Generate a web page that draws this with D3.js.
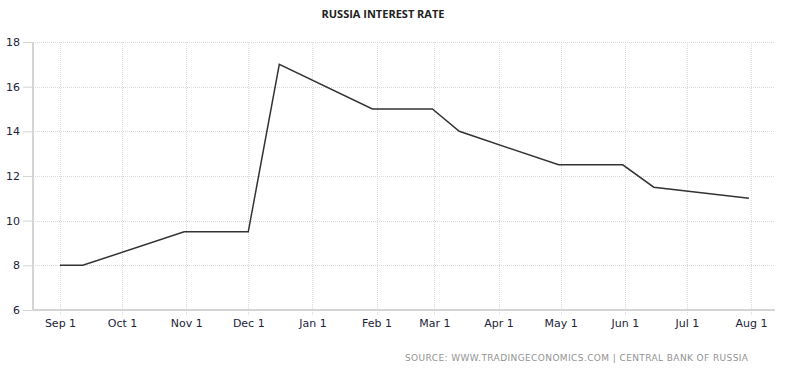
<!DOCTYPE html>
<html>
<head>
<meta charset="utf-8">
<style>
    body { margin: 0; background: #fff; }
    .grid line { stroke: #dadada; stroke-dasharray: 1,1; }
    .axis text { font: 11px "DejaVu Sans", sans-serif; fill: #23233a; }
    .line { fill: none; stroke: #333; stroke-width: 1.5px; }
</style>
</head>
<body>
<svg width="800" height="369"></svg>
<script src="https://cdn.jsdelivr.net/npm/d3@7"></script>
<script>
// policy rate changes, Sep 2014 - Aug 2015
var dates = ["2014-09-01", "2014-09-12", "2014-10-31", "2014-12-01", "2014-12-16",
             "2015-01-30", "2015-02-28", "2015-03-13", "2015-04-30", "2015-05-31",
             "2015-06-15", "2015-07-31"];
var rates = [8, 8, 9.5, 9.5, 17, 15, 15, 14, 12.5, 12.5, 11.5, 11];
var yTicks = [6, 8, 10, 12, 14, 16, 18];
var xTickDates = ["2014-09-01", "2014-10-01", "2014-11-01", "2014-12-01", "2015-01-01", "2015-02-01",
                  "2015-03-01", "2015-04-01", "2015-05-01", "2015-06-01", "2015-07-01", "2015-08-01"];

var parse = d3.timeParse("%Y-%m-%d");
var data = dates.map(function (d, i) { return { date: parse(d), rate: rates[i] }; });
var xTicks = xTickDates.map(parse);

var svg = d3.select("svg");
var plotL = 33, plotR = 775, plotT = 42, plotB = 310;

var x = d3.scaleTime()
    .domain([parse("2014-09-01"), parse("2015-08-01")])
    .range([60, 751]);
var y = d3.scaleLinear().domain([6, 18]).range([plotB, plotT]);

// grid
var grid = svg.append("g").attr("class", "grid");
grid.selectAll(".h").data(yTicks.slice(1)).enter().append("line")
    .attr("x1", plotL).attr("x2", plotR)
    .attr("y1", function (d) { return Math.round(y(d)) + 0.5; })
    .attr("y2", function (d) { return Math.round(y(d)) + 0.5; });
grid.selectAll(".v").data(xTicks).enter().append("line")
    .attr("x1", function (d) { return Math.round(x(d)) + 0.5; })
    .attr("x2", function (d) { return Math.round(x(d)) + 0.5; })
    .attr("y1", plotT).attr("y2", plotB + 6);

// axes
var yAxis = svg.append("g").attr("class", "axis")
    .attr("transform", "translate(" + plotL + ",0)")
    .call(d3.axisLeft(y).tickValues(yTicks).tickSize(10).tickPadding(3));
yAxis.select(".domain").remove();
yAxis.selectAll(".tick line").attr("stroke", "#d4d4d4");
svg.append("line").attr("x1", plotL).attr("x2", plotL).attr("y1", plotT).attr("y2", plotB)
    .attr("stroke", "#d4d4d4").attr("stroke-width", 2);

var xAxis = svg.append("g").attr("class", "axis")
    .attr("transform", "translate(0," + plotB + ")")
    .call(d3.axisBottom(x).tickValues(xTicks).tickSize(0).tickPadding(9)
        .tickFormat(d3.timeFormat("%b %-d")));
xAxis.select(".domain").remove();
svg.append("line").attr("x1", plotL).attr("x2", plotR).attr("y1", plotB).attr("y2", plotB)
    .attr("stroke", "#d4d4d4").attr("stroke-width", 2);

// series
var line = d3.line()
    .x(function (d) { return x(d.date); })
    .y(function (d) { return y(d.rate); });
svg.append("path").datum(data).attr("class", "line").attr("d", line);

// title + source
svg.append("text")
    .attr("x", 383).attr("y", 18)
    .attr("text-anchor", "middle")
    .style("font", "bold 11px 'Open Sans', sans-serif")
    .style("fill", "#222")
    .text("RUSSIA INTEREST RATE");

svg.append("text")
    .attr("x", 405).attr("y", 361)
    .attr("textLength", 343)
    .style("font", "9px 'DejaVu Sans', sans-serif")
    .style("fill", "#939393")
    .text("SOURCE: WWW.TRADINGECONOMICS.COM | CENTRAL BANK OF RUSSIA");
</script>
</body>
</html>
